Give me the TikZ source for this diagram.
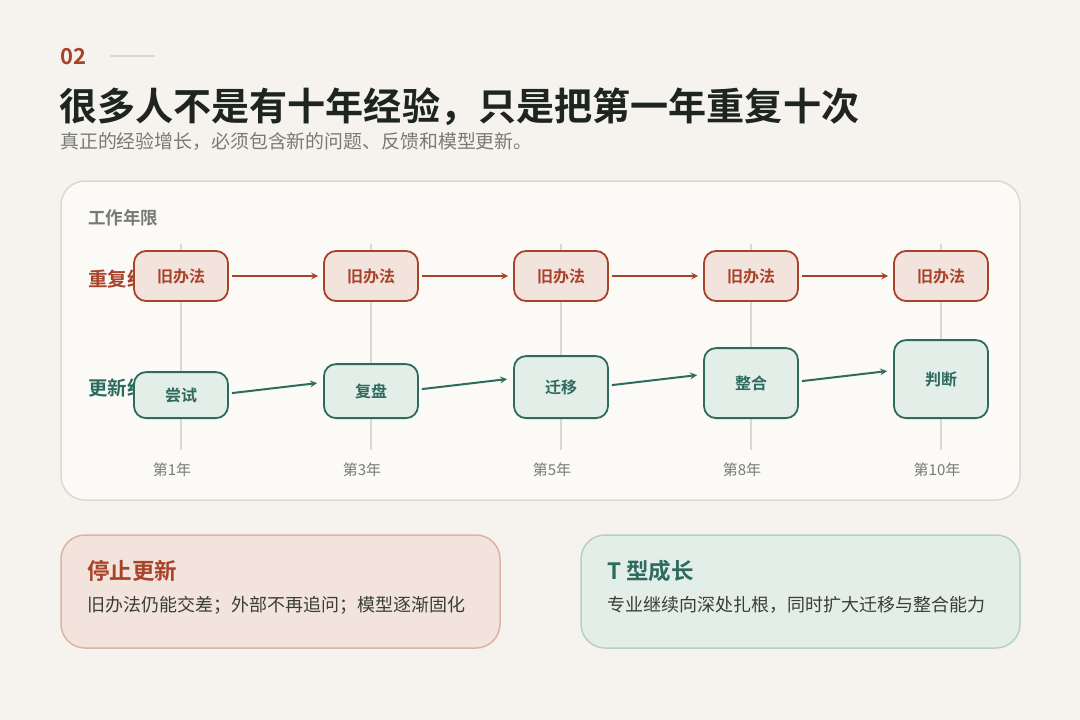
\documentclass[tikz,border=0pt]{standalone}
\usepackage{fontspec}
\setmainfont{Noto Sans CJK SC}[BoldFont={Noto Sans CJK SC Bold}]
\usetikzlibrary{arrows}
\definecolor{pagebg}{HTML}{F6F3EE}
\definecolor{cardbg}{HTML}{FBFAF7}
\definecolor{cardline}{HTML}{DDD8CE}
\definecolor{oldred}{HTML}{A8432A}
\definecolor{oldfill}{HTML}{F2E3DD}
\definecolor{oldline}{HTML}{DBB3A6}
\definecolor{newgreen}{HTML}{2E6B5F}
\definecolor{newfill}{HTML}{E4EEE9}
\definecolor{newline}{HTML}{B7CFC4}
\definecolor{ink}{HTML}{1E2420}
\definecolor{mutegray}{HTML}{777A75}
\definecolor{bodyink}{HTML}{3A3D3A}
\tikzstyle{oldbox} = [rectangle, rounded corners=12pt, minimum width=94pt, minimum height=50pt,text centered, draw=oldred, line width=1.8pt, fill=oldfill, text=oldred, font=\fontsize{16}{19}\selectfont\bfseries]
\tikzstyle{newbox} = [rectangle, rounded corners=12pt, minimum width=94pt, text centered, draw=newgreen, line width=1.8pt, fill=newfill, text=newgreen, anchor=south, font=\fontsize{16}{19}\selectfont\bfseries]
\tikzstyle{rowlabel} = [anchor=west, inner sep=0pt, font=\fontsize{19.5}{22}\selectfont\bfseries]
\tikzstyle{yearlabel} = [inner sep=0pt, text=mutegray, font=\fontsize{15}{18}\selectfont]
\tikzstyle{yearline} = [draw=cardline, line width=1.5pt]
\tikzstyle{oldarrow} = [line width=2pt,->,>=stealth,draw=oldred,shorten <=3pt,shorten >=5pt]
\tikzstyle{newarrow} = [line width=2pt,->,>=stealth,draw=newgreen]
\tikzstyle{cardtitle} = [anchor=west, inner sep=0pt, font=\fontsize{22.5}{26}\selectfont\bfseries]
\tikzstyle{cardtext} = [anchor=west, inner sep=0pt, text=bodyink, font=\fontsize{18}{21}\selectfont]

\begin{document}
\begin{tikzpicture}[x=1pt, y=-1pt]

\fill[pagebg] (0,0) rectangle (1080,720);
\useasboundingbox (0,0) rectangle (1080,720);

% heading
\node (num) [anchor=west, inner sep=0pt, text=oldred, font=\fontsize{22}{26}\selectfont\bfseries] at (60,57) {02};
\coordinate (rulea) at (110,56);
\coordinate (ruleb) at (155,56);
\draw [cardline, line width=1.2pt] (rulea) -- (ruleb);
\node (title) [anchor=west, inner sep=0pt, text=ink, font=\fontsize{38.1}{42}\selectfont\bfseries] at (59,107) {很多人不是有十年经验，只是把第一年重复十次};
\node (subtitle) [anchor=west, inner sep=0pt, text=mutegray, font=\fontsize{18.9}{22}\selectfont] at (60,142) {真正的经验增长，必须包含新的问题、反馈和模型更新。};

% timeline card
\draw [cardline, fill=cardbg, line width=1.5pt, rounded corners=24pt] (61,181) rectangle (1020,500);
\node (axis) [anchor=west, inner sep=0pt, text=mutegray, font=\fontsize{17.5}{20}\selectfont\bfseries] at (88,218) {工作年限};

\foreach \x in {181,371,561,751,941}
  \draw [yearline] (\x,244) -- (\x,450);

\node (oldlabel) [rowlabel, text=oldred] at (88,279) {重复经验};
\node (newlabel) [rowlabel, text=newgreen] at (88,388) {更新经验};

\node (old1) [oldbox] at (181,276) {旧办法};
\node (old2) [oldbox] at (371,276) {旧办法};
\node (old3) [oldbox] at (561,276) {旧办法};
\node (old4) [oldbox] at (751,276) {旧办法};
\node (old5) [oldbox] at (941,276) {旧办法};

\node (try) [newbox, minimum height=46pt] at (181,419) {尝试};
\node (review) [newbox, minimum height=54pt] at (371,419) {复盘};
\node (transfer) [newbox, minimum height=62pt] at (561,419) {迁移};
\node (combine) [newbox, minimum height=70pt] at (751,419) {整合};
\node (judge) [newbox, minimum height=78pt] at (941,419) {判断};

\draw [oldarrow] (old1) -- (old2);
\draw [oldarrow] (old2) -- (old3);
\draw [oldarrow] (old3) -- (old4);
\draw [oldarrow] (old4) -- (old5);

\draw [newarrow] ([xshift=3pt,yshift=2pt]try.east) -- ([xshift=-6pt,yshift=8pt]review.west);
\draw [newarrow] ([xshift=3pt,yshift=2pt]review.east) -- ([xshift=-6pt,yshift=8pt]transfer.west);
\draw [newarrow] ([xshift=3pt,yshift=2pt]transfer.east) -- ([xshift=-6pt,yshift=8pt]combine.west);
\draw [newarrow] ([xshift=3pt,yshift=2pt]combine.east) -- ([xshift=-6pt,yshift=8pt]judge.west);

\node (year1) [yearlabel] at (172,470) {第1年};
\node (year3) [yearlabel] at (362,470) {第3年};
\node (year5) [yearlabel] at (552,470) {第5年};
\node (year8) [yearlabel] at (742,470) {第8年};
\node (year10) [yearlabel] at (937,470) {第10年};

% bottom cards
\draw [oldline, fill=oldfill, line width=1.5pt, rounded corners=24pt] (61,535) rectangle (500,648);
\node (stoptitle) [cardtitle, text=oldred] at (87,571) {停止更新};
\node (stoptext) [cardtext] at (87,605) {旧办法仍能交差；外部不再追问；模型逐渐固化};

\draw [newline, fill=newfill, line width=1.5pt, rounded corners=24pt] (581,535) rectangle (1020,648);
\node (growtitle) [cardtitle, text=newgreen] at (607,571) {T 型成长};
\node (growtext) [cardtext] at (607,605) {专业继续向深处扎根，同时扩大迁移与整合能力};

\end{tikzpicture}
\end{document}
